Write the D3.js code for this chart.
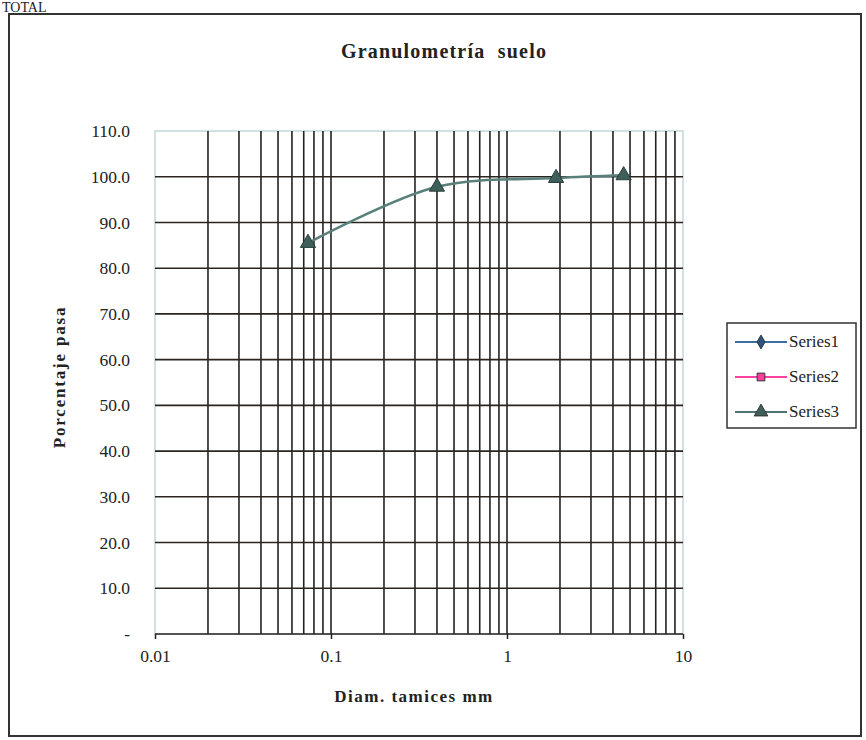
<!DOCTYPE html>
<html>
<head>
<meta charset="utf-8">
<script src="https://cdn.jsdelivr.net/npm/d3@7"></script>
<style>
  html, body { margin: 0; padding: 0; background: #fff; }
  svg { display: block; }
  text { font-family: "Liberation Serif", "DejaVu Serif", serif; fill: #222; }
</style>
</head>
<body>
<svg id="chart" width="866" height="740"></svg>
<script>
// Sieve sizes (mm) and percent passing
const diameters = [0.074, 0.40, 1.9, 4.6];
const series3 = [85.5, 97.8, 99.7, 100.3];
const seriesNames = ["Series1", "Series2", "Series3"];
const seriesColors = ["#3a6ea5", "#ff3fa0", "#4f7370"];
const markerFills = ["#2b5580", "#ff3fa0", "#3f5f5a"];
const yTicks = [0, 10, 20, 30, 40, 50, 60, 70, 80, 90, 100, 110];
const xTickLabels = [0.01, 0.1, 1, 10];

const svg = d3.select("#chart");

// Heading at the top of the sheet
svg.append("text").attr("x", 2).attr("y", 12)
  .attr("font-size", 14).text("TOTAL");

// Chart frame
svg.append("rect").attr("x", 9).attr("y", 14).attr("width", 852).attr("height", 722)
  .attr("fill", "none").attr("stroke", "#333").attr("stroke-width", 2);

const plot = { left: 155, right: 683, top: 131, bottom: 634 };

const x = d3.scaleLog().domain([0.01, 10]).range([plot.left, plot.right]);
const y = d3.scaleLinear().domain([0, 110]).range([plot.bottom, plot.top]);

// Plot area border
svg.append("rect").attr("x", plot.left).attr("y", plot.top)
  .attr("width", plot.right - plot.left).attr("height", plot.bottom - plot.top)
  .attr("fill", "none").attr("stroke", "#9fc9c6").attr("stroke-width", 1);

// Vertical grid (major + minor on log scale)
const grid = svg.append("g");
grid.selectAll("line.v").data(x.ticks().filter(d => d > 0.01 && d < 10))
  .join("line").attr("class", "v")
  .attr("x1", d => x(d)).attr("x2", d => x(d))
  .attr("y1", plot.top).attr("y2", plot.bottom)
  .attr("stroke", "#222").attr("stroke-width", 1.6);

// Horizontal grid
grid.selectAll("line.h").data(yTicks.filter(d => d > 0 && d < 110))
  .join("line").attr("class", "h")
  .attr("x1", plot.left).attr("x2", plot.right)
  .attr("y1", d => y(d)).attr("y2", d => y(d))
  .attr("stroke", "#2a2420").attr("stroke-width", 1.6);

// Bottom axis line
svg.append("line").attr("x1", plot.left).attr("x2", plot.right)
  .attr("y1", plot.bottom).attr("y2", plot.bottom)
  .attr("stroke", "#2a2420").attr("stroke-width", 1.6);

// X axis
const xAxis = d3.axisBottom(x).tickValues(xTickLabels)
  .tickFormat(d => String(d)).tickSize(5).tickPadding(11);
const gx = svg.append("g").attr("transform", `translate(0,${plot.bottom})`).call(xAxis);
gx.select(".domain").remove();
gx.selectAll(".tick line").attr("stroke", "#222").attr("stroke-width", 1.5);
gx.selectAll(".tick text").attr("font-size", 17.5).attr("font-family", "Liberation Serif").attr("fill", "#333");

// Y axis
const yAxis = d3.axisLeft(y).tickValues(yTicks)
  .tickFormat(d => d === 0 ? "-" : d.toFixed(1)).tickSize(0).tickPadding(25);
const gy = svg.append("g").attr("transform", `translate(${plot.left},0)`).call(yAxis);
gy.select(".domain").remove();
gy.selectAll(".tick text").attr("font-size", 17.5).attr("font-family", "Liberation Serif").attr("fill", "#333");

// Titles
svg.append("text").attr("x", 444).attr("y", 58).attr("text-anchor", "middle")
  .attr("font-size", 20).attr("font-weight", "bold").attr("letter-spacing", 1.2)
  .style("white-space", "pre").attr("fill", "#333").text("Granulometría  suelo");
svg.append("text").attr("x", 414).attr("y", 702).attr("text-anchor", "middle")
  .attr("font-size", 17).attr("font-weight", "bold").attr("letter-spacing", 1.5)
  .attr("fill", "#333").text("Diam. tamices mm");
svg.append("text").attr("transform", "translate(65,377) rotate(-90)")
  .attr("text-anchor", "middle").attr("font-size", 17).attr("font-weight", "bold")
  .attr("letter-spacing", 1.8).attr("fill", "#333")
  .text("Porcentaje pasa");

// Data line (smoothed)
const pts = diameters.map((d, i) => [d, series3[i]]);
const line = d3.line().x(d => x(d[0])).y(d => y(d[1])).curve(d3.curveCatmullRom.alpha(0.5));
svg.append("path").datum(pts).attr("d", line)
  .attr("fill", "none").attr("stroke", "#5a807b").attr("stroke-width", 2.5);

const tri = d3.symbol().type(d3.symbolTriangle).size(100);
svg.selectAll("path.pt").data(pts).join("path").attr("class", "pt")
  .attr("transform", d => `translate(${x(d[0])},${y(d[1])})`)
  .attr("d", tri).attr("fill", markerFills[2]).attr("stroke", "#2a3e3a").attr("stroke-width", 1);

// Legend
const lg = svg.append("g");
lg.append("rect").attr("x", 727).attr("y", 323).attr("width", 129).attr("height", 105)
  .attr("fill", "#fff").attr("stroke", "#333").attr("stroke-width", 1.5);
const shapes = [d3.symbolDiamond, d3.symbolSquare, d3.symbolTriangle];
const shapeSize = [55, 60, 80];
seriesNames.forEach((name, i) => {
  const cy = 342 + i * 35;
  lg.append("line").attr("x1", 735).attr("x2", 787).attr("y1", cy).attr("y2", cy)
    .attr("stroke", seriesColors[i]).attr("stroke-width", 2);
  lg.append("path").attr("transform", `translate(761,${cy})`)
    .attr("d", d3.symbol().type(shapes[i]).size(shapeSize[i])())
    .attr("fill", markerFills[i]).attr("stroke", "#333").attr("stroke-width", 1);
  lg.append("text").attr("x", 789).attr("y", cy + 5).attr("font-size", 17)
    .attr("fill", "#333").text(name);
});
</script>
</body>
</html>
